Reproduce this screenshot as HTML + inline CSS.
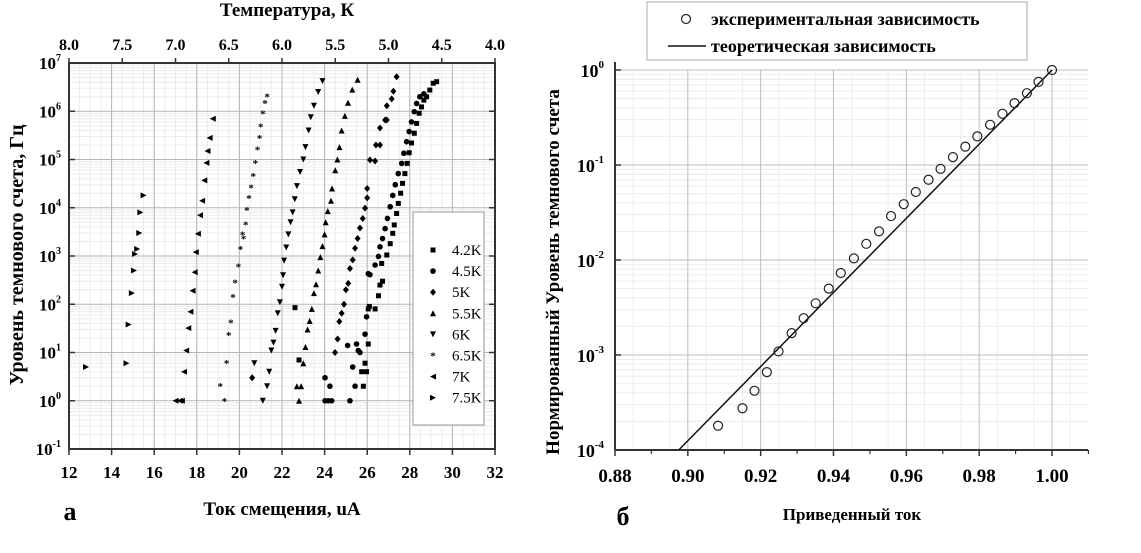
<!DOCTYPE html>
<html><head><meta charset="utf-8">
<style>
body{margin:0;background:#fff;}
svg{display:block;font-family:"Liberation Serif","DejaVu Serif",serif;font-weight:bold;}
</style></head>
<body>
<svg id="fig" width="1141" height="553" viewBox="0 0 1141 553" xmlns="http://www.w3.org/2000/svg">
<g id="left"></g>
<g id="right"></g>
</svg>
<script>
// ---------- Left chart data ----------
const xTicksL = [12,14,16,18,20,22,24,26,28,30,32];
const topTicksL = ["8.0","7.5","7.0","6.5","6.0","5.5","5.0","4.5","4.0"];
const yExpL = [-1,0,1,2,3,4,5,6,7];
const seriesNames = ["4.2K","4.5K","5K","5.5K","6K","6.5K","7K","7.5K"];
const s42I = [22.61,22.8,25.74,25.82,25.9,25.97,26.05,26.05,26.1,26.37,26.53,26.6,26.72,26.68,26.92,27.08,27.2,27.27,27.38,27.46,27.57,27.66,27.77,27.88,27.97,28.08,28.21,28.32,28.44,28.55,28.66,28.79,28.94,29.1,29.26];
const s42V = [85,7,4,2,6,4,15,80,90,80,150,250,300,700,1050,1800,2950,4400,7600,12300,20000,32000,51000,83000,138000,220000,350000,560000,910000,1230000,1700000,2000000,2750000,3800000,4100000];
const s45I = [24.02,24.02,24.17,24.33,24.25,25.08,25.32,25.19,25.43,25.5,25.58,25.66,25.9,25.97,26.05,26.13,26.37,26.53,26.6,26.72,26.84,26.95,27.08,27.2,27.32,27.46,27.62,27.72,27.85,27.97,28.08,28.21,28.32,28.47,28.66];
const s45V = [3,1,1,1,2,14,5,1,2,15,11,10,24,55,430,410,650,980,1550,2300,3700,6000,10500,18000,30000,51000,83000,135000,234000,380000,600000,980000,1450000,2000000,2300000];
const s5I = [20.6,24.49,24.61,24.69,24.8,24.91,25.0,25.11,25.19,25.32,25.43,25.55,25.66,25.79,25.9,26.0,26.0,26.13,26.37,26.41,26.6,26.6,26.84,26.92,26.92,27.15,27.23,27.38];
const s5V = [3,10,19,44,65,100,200,270,550,830,1450,2300,3800,6000,9800,16000,25000,98000,93000,200000,200000,450000,660000,660000,1300000,1800000,2600000,5200000];
const s55I = [22.8,22.7,22.9,23.0,23.1,23.2,23.3,23.4,23.5,23.6,23.7,23.8,23.9,24.0,24.05,24.15,24.3,24.35,24.5,24.6,24.7,24.8,24.95,25.1,25.3,25.55];
const s55V = [1,2,2,6,13,30,45,80,170,260,500,950,1600,2800,5000,8500,14000,25000,60000,100000,180000,400000,800000,1500000,2800000,4500000];
const s6I = [20.7,21.1,21.3,21.4,21.5,21.6,21.7,21.8,21.9,22.0,22.05,22.1,22.2,22.3,22.4,22.5,22.6,22.7,22.85,23.0,23.1,23.25,23.35,23.5,23.7,23.9];
const s6V = [6,1,2,4,11,16,28,65,110,230,400,800,1500,2800,5000,8000,15000,28000,55000,100000,180000,400000,750000,1300000,2500000,4200000];
const s65I = [19.1,19.3,19.4,19.5,19.6,19.7,19.8,19.95,20.05,20.15,20.2,20.3,20.35,20.45,20.55,20.65,20.75,20.85,20.95,21.0,21.1,21.2,21.3];
const s65V = [2,1,6,23,42,140,280,600,1400,2800,2300,4500,9000,16000,26000,45000,85000,160000,280000,480000,900000,1500000,2000000];
const s7I = [17.0,17.2,17.3,17.4,17.5,17.6,17.7,17.8,17.9,17.95,18.05,18.15,18.25,18.35,18.45,18.5,18.6,18.75];
const s7V = [1,1,1,4,11,32,70,190,460,1200,2900,7000,14000,37000,85000,150000,280000,700000];
const s75I = [12.8,14.7,14.8,14.95,15.05,15.1,15.2,15.3,15.35,15.5];
const s75V = [5,6,38,170,500,1100,1400,3000,8000,18000];

// ---------- Right chart data ----------
const xTicksR = ["0.88","0.90","0.92","0.94","0.96","0.98","1.00"];
const yExpR = [-4,-3,-2,-1,0];
const expX = [0.9083,0.9150,0.9183,0.9217,0.9249,0.9285,0.9318,0.9351,0.9387,0.9420,0.9456,0.9490,0.9525,0.9558,0.9593,0.9626,0.9661,0.9694,0.9728,0.9762,0.9795,0.9830,0.9864,0.9897,0.9931,0.9963,1.0];
const expY = [1.8e-4,2.75e-4,4.2e-4,6.6e-4,1.09e-3,1.7e-3,2.44e-3,3.5e-3,5.0e-3,7.3e-3,0.0104,0.0148,0.020,0.029,0.0387,0.052,0.070,0.091,0.121,0.156,0.20,0.265,0.346,0.448,0.57,0.75,1.0];
const theoryX = [0.8975,1.0];
const theoryY = [1e-4,1.0];

const NS="http://www.w3.org/2000/svg";
function mk(parent,tag,attrs,text){const e=document.createElementNS(NS,tag);for(const k in attrs)e.setAttribute(k,attrs[k]);if(text!==undefined)e.textContent=text;parent.appendChild(e);return e;}

// ---------- Left chart ----------
const L=document.getElementById('left');
const lx0=69,lx1=495,ly0=63,ly1=449;
const xL=v=>lx0+(v-12)/20*(lx1-lx0);
const yL=v=>ly1-(Math.log10(v)+1)/8*(ly1-ly0);
const tL=t=>lx0+(8-t)/4*(lx1-lx0);
for(let e=-1;e<7;e++){for(let m=2;m<10;m++){const y=yL(m*Math.pow(10,e));mk(L,'line',{x1:lx0,x2:lx1,y1:y,y2:y,stroke:'#ececec','stroke-width':1});}}
for(let v=12;v<32;v+=0.5){const x=xL(v);mk(L,'line',{x1:x,x2:x,y1:ly0,y2:ly1,stroke:'#ececec','stroke-width':1});}
yExpL.forEach(e=>{const y=yL(Math.pow(10,e));mk(L,'line',{x1:lx0,x2:lx1,y1:y,y2:y,stroke:'#b5b5b5','stroke-width':1});});
xTicksL.forEach(v=>{const x=xL(v);mk(L,'line',{x1:x,x2:x,y1:ly0,y2:ly1,stroke:'#b5b5b5','stroke-width':1});});
const fr=mk(L,'rect',{x:lx0,y:ly0,width:lx1-lx0,height:ly1-ly0,fill:'none',stroke:'#333','stroke-width':2});


xTicksL.forEach(v=>{const x=xL(v);mk(L,'line',{x1:x,x2:x,y1:ly1,y2:ly1+6,stroke:'#333','stroke-width':1.5});
 const t=mk(L,'text',{x:x,y:478,'text-anchor':'middle','font-size':17},String(v));
 
 });
topTicksL.forEach(s=>{const x=tL(parseFloat(s));mk(L,'line',{x1:x,x2:x,y1:ly0,y2:ly0-5,stroke:'#333','stroke-width':1.5});
 const t=mk(L,'text',{x:x,y:50,'text-anchor':'middle','font-size':16},s);
 
 });
yExpL.forEach(e=>{const y=yL(Math.pow(10,e));mk(L,'line',{x1:lx0,x2:lx0+6,y1:y,y2:y,stroke:'#333','stroke-width':1.5});mk(L,'line',{x1:lx1,x2:lx1-6,y1:y,y2:y,stroke:'#333','stroke-width':1.5});
 const t=mk(L,'text',{x:61,y:y+6,'text-anchor':'end','font-size':17},'10');
 mk(t,'tspan',{dy:-8,'font-size':10},String(e));
 
 });
let tt=mk(L,'text',{x:287,y:16,'text-anchor':'middle','font-size':19},'Температура, К');


tt=mk(L,'text',{x:282,y:515,'text-anchor':'middle','font-size':19},'Ток смещения, uA');


tt=mk(L,'text',{x:70,y:520,'text-anchor':'middle','font-size':26},'а');


tt=mk(L,'text',{x:0,y:0,'text-anchor':'middle','font-size':20,transform:'translate(23,255) rotate(-90)'},'Уровень темнового счета, Гц');



function marker(g,type,x,y){
 const s=3;
 if(type===0) return mk(g,'rect',{x:x-2.5,y:y-2.5,width:5,height:5,fill:'#000'});
 if(type===1) return mk(g,'circle',{cx:x,cy:y,r:2.8,fill:'#000'});
 if(type===2) return mk(g,'polygon',{points:`${x},${y-s-0.5} ${x+s},${y} ${x},${y+s+0.5} ${x-s},${y}`,fill:'#000'});
 if(type===3) return mk(g,'polygon',{points:`${x},${y-s} ${x+s},${y+s} ${x-s},${y+s}`,fill:'#000'});
 if(type===4) return mk(g,'polygon',{points:`${x},${y+s} ${x+s},${y-s} ${x-s},${y-s}`,fill:'#000'});
 if(type===5) return mk(g,'text',{x:x,y:y+4,'text-anchor':'middle','font-size':11,fill:'#000'},'*');
 if(type===6) return mk(g,'polygon',{points:`${x-s},${y} ${x+s},${y-s} ${x+s},${y+s}`,fill:'#000'});
 return mk(g,'polygon',{points:`${x+s},${y} ${x-s},${y-s} ${x-s},${y+s}`,fill:'#000'});
}
const allI=[s42I,s45I,s5I,s55I,s6I,s65I,s7I,s75I];
const allV=[s42V,s45V,s5V,s55V,s6V,s65V,s7V,s75V];
allI.forEach((I,k)=>{
 const g=mk(L,'g',{});
 
 
 I.forEach((v,i)=>{const m=marker(g,k,xL(v),yL(allV[k][i]));
  
  });
});
const lg=mk(L,'g',{});


mk(lg,'rect',{x:413,y:212,width:71,height:213,fill:'#fff',stroke:'#999','stroke-width':1});
seriesNames.forEach((n,k)=>{const y=250+k*21.1;marker(lg,k,433,y);
 const t=mk(lg,'text',{x:452,y:y+5,'font-size':15,'font-weight':'normal'},n);
 
 });

// ---------- Right chart ----------
const R=document.getElementById('right');
const rx0=615,rx1=1088,ry0=70,ry1=450;
const xR=v=>rx0+(v-0.88)/0.12*437;
const yR=v=>ry1-(Math.log10(v)+4)/4*(ry1-ry0);
for(let e=-4;e<0;e++){for(let m=2;m<10;m++){const y=yR(m*Math.pow(10,e));mk(R,'line',{x1:rx0,x2:rx1,y1:y,y2:y,stroke:'#ececec','stroke-width':1});}}
for(let v=0.885;v<1.01;v+=0.01){const x=xR(v);mk(R,'line',{x1:x,x2:x,y1:ry0,y2:ry1,stroke:'#ececec','stroke-width':1});}
yExpR.forEach(e=>{const y=yR(Math.pow(10,e));mk(R,'line',{x1:rx0,x2:rx1,y1:y,y2:y,stroke:'#bdbdbd','stroke-width':1});
 mk(R,'line',{x1:rx0,x2:rx0+6,y1:y,y2:y,stroke:'#333','stroke-width':1.5});
 const t=mk(R,'text',{x:604,y:y+7,'text-anchor':'end','font-size':18},'10');
 mk(t,'tspan',{dy:-9,'font-size':11},String(e));
 
 });
xTicksR.forEach(s=>{const x=xR(parseFloat(s));mk(R,'line',{x1:x,x2:x,y1:ry0,y2:ry1,stroke:'#bdbdbd','stroke-width':1});
 mk(R,'line',{x1:x,x2:x,y1:ry1,y2:ry1+6,stroke:'#333','stroke-width':1.5});
 const t=mk(R,'text',{x:x,y:482,'text-anchor':'middle','font-size':19},s);
 
 });
for(let v=0.89;v<1.015;v+=0.02){const x=xR(v);mk(R,'line',{x1:x,x2:x,y1:ry1,y2:ry1+4,stroke:'#333','stroke-width':1.2});}
mk(R,'line',{x1:rx0,x2:rx0,y1:62,y2:ry1,stroke:'#333','stroke-width':2});
mk(R,'line',{x1:rx0,x2:rx1,y1:ry1,y2:ry1,stroke:'#333','stroke-width':2});
const th=mk(R,'line',{x1:xR(theoryX[0]),y1:yR(theoryY[0]),x2:xR(theoryX[1]),y2:yR(theoryY[1]),stroke:'#111','stroke-width':1.5});


expX.forEach((v,i)=>{const c=mk(R,'circle',{cx:xR(v),cy:yR(expY[i]),r:4.5,fill:'none',stroke:'#222','stroke-width':1.2});
 
 });
const rl=mk(R,'g',{});


mk(rl,'rect',{x:647,y:2,width:380,height:58,fill:'#fff',stroke:'#aaa','stroke-width':1});
mk(rl,'circle',{cx:686,cy:19,r:4.5,fill:'none',stroke:'#222','stroke-width':1.2});
mk(rl,'text',{x:711,y:25,'font-size':18},'экспериментальная зависимость');
mk(rl,'line',{x1:668,x2:706,y1:46,y2:46,stroke:'#111','stroke-width':1.5});
mk(rl,'text',{x:711,y:52,'font-size':18},'теоретическая зависимость');
tt=mk(R,'text',{x:852,y:520,'text-anchor':'middle','font-size':17},'Приведенный ток');


tt=mk(R,'text',{x:623,y:525,'text-anchor':'middle','font-size':26},'б');


tt=mk(R,'text',{x:0,y:0,'text-anchor':'middle','font-size':19,transform:'translate(559,272) rotate(-90)'},'Нормированный Уровень темнового счета');


</script>
</body></html>
